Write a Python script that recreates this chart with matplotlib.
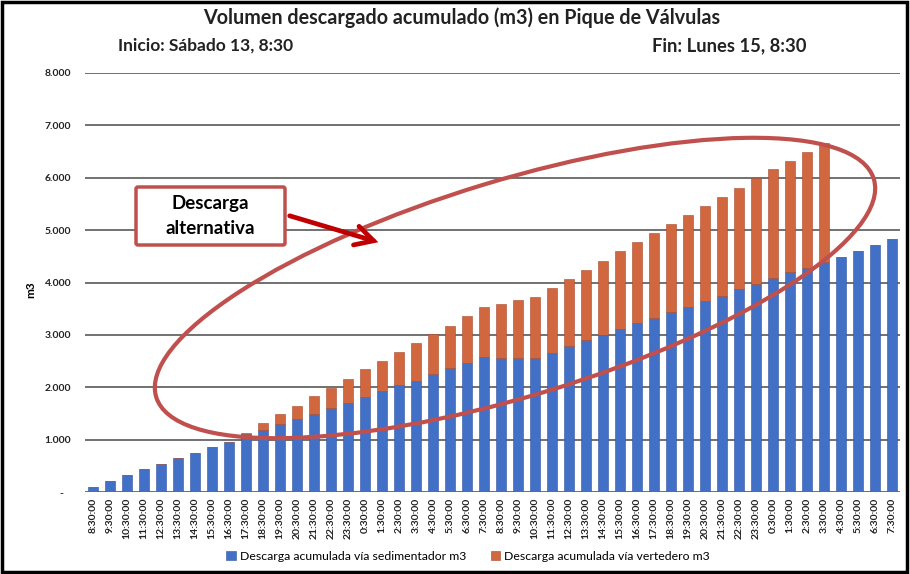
import matplotlib
matplotlib.use("Agg")
import matplotlib.pyplot as plt
from matplotlib.patches import Ellipse, FancyBboxPatch, Rectangle, FancyArrowPatch
import numpy as np

plt.rcParams['font.family'] = ['Lato', 'DejaVu Sans']

# hourly cumulative discharge, Saturday 8:30 -> Monday 7:30
horas = [f"{(8 + i) % 24}:30:00" for i in range(48)]

sedimentador = [100, 215, 318, 433, 528, 649, 738, 859, 960, 1100,
                1190, 1291, 1393, 1495, 1595, 1692, 1819, 1927, 2042, 2125,
                2252, 2360, 2468, 2570, 2565, 2565, 2565, 2659, 2786, 2895,
                2996, 3104, 3219, 3314, 3429, 3537, 3645, 3747, 3874, 3969,
                4078, 4192, 4268, 4396, 4491, 4606, 4714, 4828]

vertedero = [0, 0, 0, 0, 0, 0, 0, 0, 0, 32,
             121, 191, 250, 333, 396, 465, 522, 579, 630, 725,
             763, 814, 897, 954, 1029, 1105, 1156, 1228, 1285, 1350,
             1419, 1495, 1546, 1622, 1686, 1749, 1813, 1889, 1934, 2017,
             2080, 2137, 2221, 2271, 0, 0, 0, 0]

yticks = [0, 1000, 2000, 3000, 4000, 5000, 6000, 7000, 8000]
ytick_labels = ["-   ", "1.000", "2.000", "3.000", "4.000", "5.000", "6.000", "7.000", "8.000"]

azul = "#4270C6"
naranja = "#D0673F"
rojo = "#C0504D"

fig = plt.figure(figsize=(9.1, 5.74), dpi=100)
ax = fig.add_axes([85 / 910, 82 / 574, 815 / 910, 419 / 574])

x = np.arange(len(horas))
ax.bar(x, sedimentador, width=0.57, color=azul, edgecolor="#2F55A0", linewidth=0.4,
       label="Descarga acumulada vía sedimentador m3", zorder=3)
ax.bar(x, vertedero, width=0.57, bottom=sedimentador, color=naranja, edgecolor="#A8492C",
       linewidth=0.4, label="Descarga acumulada vía vertedero m3", zorder=3)

ax.set_xlim(-0.45, 47.45)
ax.set_ylim(0, 8000)
ax.set_yticks(yticks)
ax.set_yticklabels(ytick_labels, fontsize=7.5, fontweight="bold", color="#222222")
ax.set_xticks(x)
ax.set_xticklabels(horas, rotation=90, fontsize=7.5, fontweight="bold", color="#222222")
ax.tick_params(axis="both", length=0, pad=4)
ax.tick_params(axis="y", pad=10)
for s in ax.spines.values():
    s.set_visible(False)
ax.yaxis.grid(True, color="#4a4a4a", linewidth=1.1, zorder=0)
ax.set_axisbelow(True)

fig.text(31 / 910, 1 - 290 / 574, "m3", rotation=90, fontsize=8.5, fontweight="bold",
         ha="center", va="center")

fig.text(462 / 910, 1 - 18 / 574, "Volumen descargado acumulado (m3) en Pique de Válvulas",
         fontsize=14.2, fontweight="bold", ha="center", va="center", color="#222222")
fig.text(118 / 910, 1 - 46 / 574, "Inicio: Sábado 13, 8:30", fontsize=12.5, fontweight="bold",
         ha="left", va="center", color="#222222")
fig.text(806 / 910, 1 - 46 / 574, "Fin: Lunes 15, 8:30", fontsize=13.2, fontweight="bold",
         ha="right", va="center", color="#222222")

ax.legend(loc="lower center", bbox_to_anchor=(468 / 910, 0.002), bbox_transform=fig.transFigure,
          ncol=2, frameon=False, fontsize=8.8, handlelength=0.8, handleheight=0.8,
          handletextpad=0.3, columnspacing=2.0)

# annotation layer in pixel units
ov = fig.add_axes([0, 0, 1, 1], zorder=10)
ov.set_xlim(0, 910)
ov.set_ylim(574, 0)
ov.axis("off")

ov.add_patch(Ellipse((515, 288), 750, 216, angle=-16.9, fill=False, edgecolor=rojo, linewidth=3))

ov.add_patch(FancyBboxPatch((136, 187), 149, 58, boxstyle="round,pad=0,rounding_size=2",
                            facecolor="white", edgecolor=rojo, linewidth=2.5))
ov.text(210.5, 203, "Descarga", fontsize=13.5, fontweight="bold", ha="center", va="center")
ov.text(210.5, 229, "alternativa", fontsize=13.5, fontweight="bold", ha="center", va="center")

ov.add_patch(FancyArrowPatch((287, 215), (381, 243), arrowstyle="->,head_length=13,head_width=7",
                             color="#C00000", linewidth=3.4, mutation_scale=1,
                             capstyle="round", joinstyle="miter"))

ov.add_patch(Rectangle((2, 2), 905, 570, fill=False, edgecolor="black", linewidth=2.5))

fig.savefig("out.png", dpi=100)
